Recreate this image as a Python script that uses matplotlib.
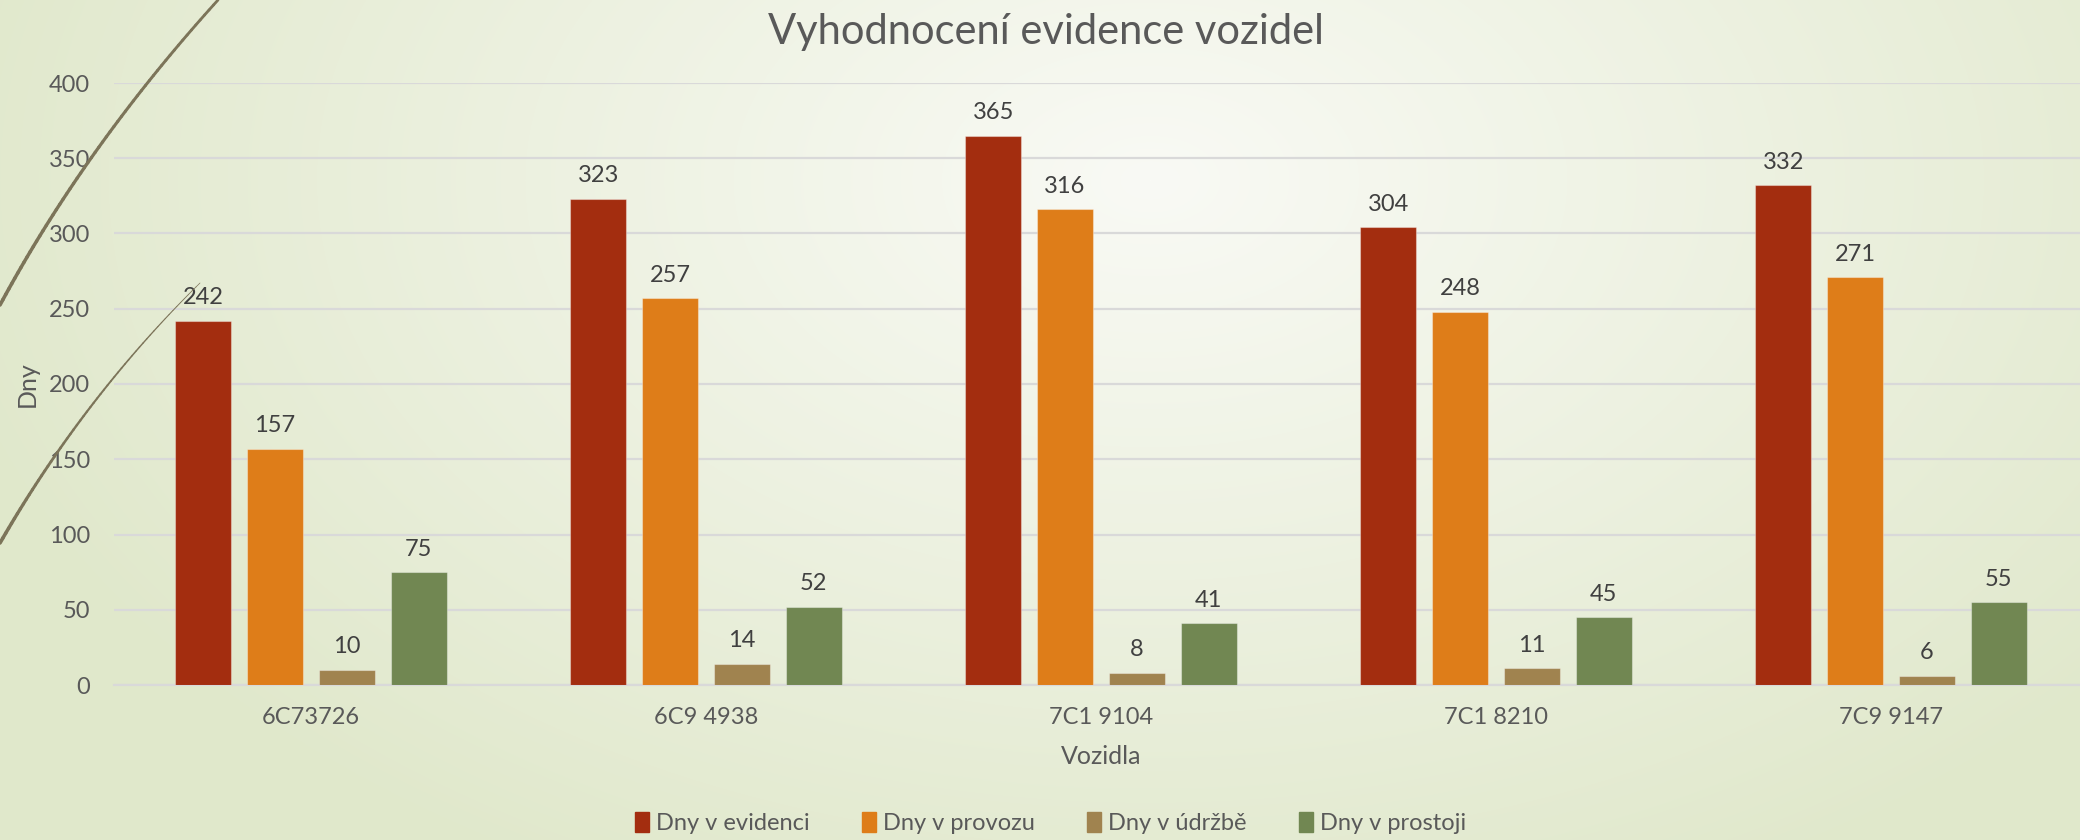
import numpy as np
import matplotlib.pyplot as plt
from matplotlib.patches import Patch
from matplotlib.collections import LineCollection

plt.rcParams['font.family'] = ['Lato', 'DejaVu Sans']

# data
vozidla = ["6C73726", "6C9 4938", "7C1 9104", "7C1 8210", "7C9 9147"]
dny_evidence = [242, 323, 365, 304, 332]
dny_provoz = [157, 257, 316, 248, 271]
dny_udrzba = [10, 14, 8, 11, 6]
dny_prostoj = [75, 52, 41, 45, 55]
serie_nazvy = ["Dny v evidenci", "Dny v provozu", "Dny v údržbě", "Dny v prostoji"]
barvy = ["#A32D0F", "#DE7D19", "#A0834F", "#718752"]

seda = "#595959"
W, H = 2080, 840

fig = plt.figure(figsize=(W / 100, H / 100), dpi=100)

# pozadi - radialni prechod
bg = fig.add_axes([0, 0, 1, 1], zorder=-10)
yy, xx = np.mgrid[0:H, 0:W]
r = np.sqrt(((xx - 1150) / 1250.0) ** 2 + ((yy - 180) / 800.0) ** 2)
r = np.clip(r, 0, 1)
c0 = np.array([249, 250, 245]) / 255.0
c1 = np.array([224, 232, 203]) / 255.0
img = c0[None, None, :] * (1 - r[..., None]) + c1[None, None, :] * r[..., None]
bg.imshow(img, extent=[0, W, H, 0], aspect='auto')
bg.set_xlim(0, W)
bg.set_ylim(H, 0)
bg.axis('off')

# hlavni graf
ax = fig.add_axes([113.5 / W, 1 - 685 / H, 1975 / W, 602 / H])
ax.set_facecolor('none')
x = np.arange(len(vozidla))
krok = 0.182
sirka = 0.142
serie = [dny_evidence, dny_provoz, dny_udrzba, dny_prostoj]
for i, (hodnoty, barva, nazev) in enumerate(zip(serie, barvy, serie_nazvy)):
    b = ax.bar(x + (i - 1.5) * krok, hodnoty, sirka, color=barva, label=nazev,
               edgecolor=(1, 1, 1, 0.35), linewidth=0.8, zorder=3)
    ax.bar_label(b, padding=9, fontsize=17, color="#404040")

ax.set_xlim(-0.5, len(vozidla) - 0.5)
ax.set_ylim(0, 400)
ax.set_yticks(range(0, 401, 50))
ax.set_xticks(x)
ax.set_xticklabels(vozidla)
ax.yaxis.grid(True, color="#d9d9d9", linewidth=1.6, zorder=0)
ax.set_axisbelow(True)
for s in ["top", "right", "left"]:
    ax.spines[s].set_visible(False)
ax.spines["bottom"].set_color("#d9d9d9")
ax.spines["bottom"].set_linewidth(1.6)
ax.tick_params(axis='both', length=0, labelsize=17, labelcolor=seda)
ax.tick_params(axis='y', pad=17)
ax.tick_params(axis='x', pad=16)
ax.set_xlabel("Vozidla", fontsize=18, color=seda, labelpad=12)
ax.set_ylabel("Dny", fontsize=18, color=seda, labelpad=7)

fig.text(0.503, 1 - 44 / H, "Vyhodnocení evidence vozidel", ha='center', va='baseline',
         fontsize=30, color=seda)

handles = [Patch(color=c) for c in barvy]
fig.legend(handles, serie_nazvy, loc='center', bbox_to_anchor=(0.505, 1 - 823 / H),
           ncol=4, frameon=False, fontsize=17, labelcolor=seda,
           handlelength=0.6, handleheight=0.9, handletextpad=0.3, columnspacing=2.2)

# dekorativni oblouky vlevo
ov = fig.add_axes([0, 0, 1, 1], zorder=10)
ov.set_xlim(0, W)
ov.set_ylim(H, 0)
ov.axis('off')
ov.patch.set_alpha(0)


def oblouk(p0, c, p2, w0, w1):
    t = np.linspace(0, 1, 60)[:, None]
    pts = (1 - t) ** 2 * np.array(p0) + 2 * (1 - t) * t * np.array(c) + t ** 2 * np.array(p2)
    seg = np.stack([pts[:-1], pts[1:]], axis=1)
    lw = np.linspace(w0, w1, len(seg))
    ov.add_collection(LineCollection(seg, linewidths=lw, colors="#7C7459", capstyle='round'))


oblouk((0, 305), (85, 147), (218, 0), 2.6, 2.0)
oblouk((0, 543), (84, 397), (200, 283), 2.6, 0.5)

fig.savefig("out.png", dpi=100)
